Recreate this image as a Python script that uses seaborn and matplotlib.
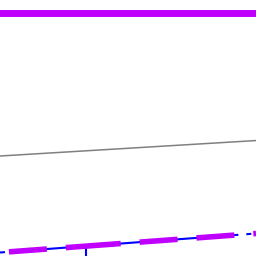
import matplotlib
matplotlib.use("Agg")
import matplotlib.pyplot as plt
import seaborn as sns
import pandas as pd

# data
x = [0, 10]
top_series = [95.1, 95.1]
gray_series = [39.06, 45.1]
blue_series = [1.37, 8.79]
spike_x = [3.36]
spike_top = [3.8]

sns.set_style("white")
plt.rcParams["lines.scale_dashes"] = False

fig = plt.figure(figsize=(2.56, 2.56), dpi=100)
ax = fig.add_axes([0, 0, 1, 1])
PX = 72 / 100.0  # points per pixel

df = pd.DataFrame({"x": x, "top": top_series, "gray": gray_series, "blue": blue_series})

sns.lineplot(data=df, x="x", y="top", color="#bf00ff", lw=5.0, ax=ax)
sns.lineplot(data=df, x="x", y="gray", color="#808080", lw=1.1, ax=ax)
sns.lineplot(data=df, x="x", y="blue", color="#0000ff", lw=1.5, ax=ax)
ax.lines[-1].set_linestyle((0, [5 * PX, 4 * PX, 230 * PX, 8 * PX]))
ax.vlines(spike_x, ymin=-5, ymax=spike_top, color="#0000ff", lw=1.5)
sns.lineplot(data=df, x="x", y="blue", color="#bf00ff", lw=4.0, ax=ax)
ax.lines[-1].set_linestyle((236 * PX, [38 * PX, 19 * PX, 55 * PX, 19 * PX, 38 * PX, 19 * PX, 38 * PX, 19 * PX]))

ax.set_xlim(0, 10)
ax.set_ylim(0, 100)
ax.axis("off")
fig.savefig("out.png", dpi=100)
